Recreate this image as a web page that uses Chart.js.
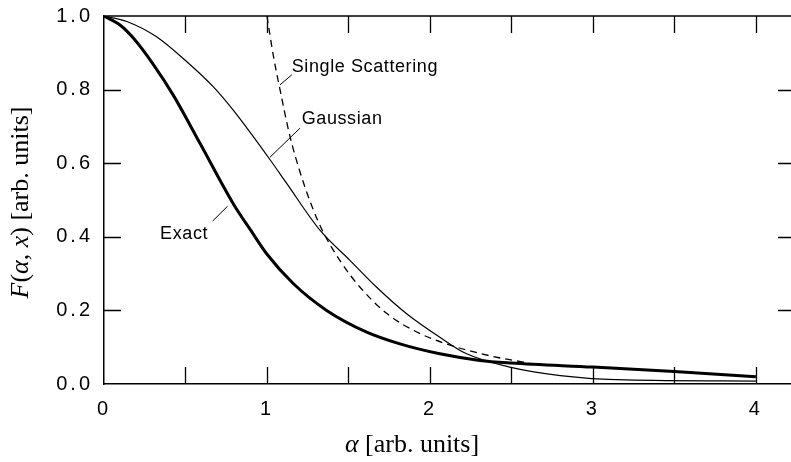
<!DOCTYPE html>
<html><head><meta charset="utf-8">
<script src="https://cdn.jsdelivr.net/npm/chart.js@4.4.1/dist/chart.umd.min.js"></script>
<style>html,body{margin:0;padding:0;background:#fff;overflow:hidden;width:791px;height:462px}canvas{display:block}</style>
</head><body>
<canvas id="c" width="795" height="462"></canvas>
<script>
// ---- data ----
const exactX = [0, 0.1, 0.18, 0.30, 0.425, 0.589, 0.793, 0.90, 0.998, 1.161, 1.366, 1.612, 1.816, 2.061, 2.307, 2.50, 3.00, 3.50, 4.00];
const exactY = [1.0, 0.975, 0.94, 0.87, 0.785, 0.654, 0.49, 0.418, 0.354, 0.273, 0.20, 0.141, 0.109, 0.082, 0.064, 0.057, 0.046, 0.034, 0.020];

const gaussX = [0, 0.14, 0.32, 0.51, 0.67, 0.793, 1.018, 1.121, 1.325, 1.509, 1.673, 1.857, 2.061, 2.225, 2.49, 2.80, 3.20, 4.00];
const gaussY = [1.0, 0.985, 0.944, 0.875, 0.808, 0.744, 0.61, 0.545, 0.418, 0.336, 0.263, 0.191, 0.127, 0.082, 0.046, 0.023, 0.011, 0.008];

const singleX = [1.0, 1.04, 1.08, 1.14, 1.20, 1.28, 1.346, 1.448, 1.571, 1.734, 1.939, 2.143, 2.307, 2.45, 2.61];
const singleY = [1.0, 0.89, 0.80, 0.675, 0.58, 0.478, 0.412, 0.335, 0.263, 0.192, 0.137, 0.103, 0.083, 0.069, 0.057];

const seriesNames = ['Exact', 'Gaussian', 'Single Scattering'];
const xTickLabels = ['0', '1', '2', '3', '4'];
const yTickLabels = ['0.0', '0.2', '0.4', '0.6', '0.8', '1.0'];

// annotation label anchors (data units) and leader lines
const labelAnchors = [
  {text: 'Single Scattering', x: 1.152, y: 0.864, from: [1.080, 0.813], to: [1.152, 0.840]},
  {text: 'Gaussian',          x: 1.213, y: 0.724, from: [1.018, 0.616], to: [1.202, 0.695]},
  {text: 'Exact',             x: 0.344, y: 0.412, from: [0.667, 0.443], to: [0.758, 0.483]}
];

const pts = (xs, ys) => xs.map((v, i) => ({x: v, y: ys[i]}));

const decor = {
  id: 'decor',
  beforeDraw(chart) { chart.ctx.letterSpacing = '3px'; },
  afterDraw(chart) {
    const {ctx, chartArea: a, scales: {x, y}} = chart;
    ctx.save();
    ctx.letterSpacing = '0px';
    ctx.strokeStyle = '#000';
    ctx.lineWidth = 1.5;
    ctx.beginPath();
    ctx.moveTo(a.left, a.top); ctx.lineTo(a.right, a.top); ctx.lineTo(a.right, a.bottom);
    ctx.stroke();
    // inward tick marks on all four sides
    const L = 17;
    ctx.lineWidth = 1.3;
    ctx.beginPath();
    x.ticks.forEach(t => {
      if (t.value > 0.01 && t.value < x.max - 0.01) {
        const p = Math.round(x.getPixelForValue(t.value)) + 0.5;
        ctx.moveTo(p, a.bottom); ctx.lineTo(p, a.bottom - L);
        ctx.moveTo(p, a.top); ctx.lineTo(p, a.top + L);
      }
    });
    y.ticks.forEach(t => {
      if (t.value > 0.01 && t.value < y.max - 0.01) {
        const p = Math.round(y.getPixelForValue(t.value)) + 0.5;
        ctx.moveTo(a.left, p); ctx.lineTo(a.left + L, p);
        ctx.moveTo(a.right, p); ctx.lineTo(a.right - L, p);
      }
    });
    ctx.stroke();

    // annotations
    ctx.fillStyle = '#000';
    ctx.lineWidth = 1;
    ctx.letterSpacing = '0.6px';
    ctx.font = '18px "Liberation Sans", Arial, sans-serif';
    ctx.textBaseline = 'alphabetic';
    ctx.textAlign = 'left';
    labelAnchors.forEach(l => {
      ctx.fillText(l.text, x.getPixelForValue(l.x), y.getPixelForValue(l.y) + 0.358 * 18);
      ctx.beginPath();
      ctx.moveTo(x.getPixelForValue(l.from[0]), y.getPixelForValue(l.from[1]));
      ctx.lineTo(x.getPixelForValue(l.to[0]), y.getPixelForValue(l.to[1]));
      ctx.stroke();
    });

    // axis titles (math style: italic symbols, upright text)
    ctx.letterSpacing = '0px';
    const fs = 26;
    const drawSegs = (segs, cx, base) => {
      let w = 0;
      segs.forEach(s => { ctx.font = (s.i ? 'italic ' : '') + fs + 'px "Liberation Serif", "Times New Roman", serif'; s.w = ctx.measureText(s.t).width; w += s.w; });
      let cur = cx - w / 2;
      segs.forEach(s => { ctx.font = (s.i ? 'italic ' : '') + fs + 'px "Liberation Serif", "Times New Roman", serif'; ctx.fillText(s.t, cur, base); cur += s.w; });
    };
    drawSegs([{t: 'α', i: true}, {t: ' [arb. units]', i: false}], 412, 452);
    ctx.save();
    ctx.translate(28, 202.5);
    ctx.rotate(-Math.PI / 2);
    drawSegs([{t: 'F', i: true}, {t: '(', i: false}, {t: 'α', i: true}, {t: ', ', i: false}, {t: 'x', i: true}, {t: ') [arb. units]', i: false}], 0, 0);
    ctx.restore();
    ctx.restore();
  }
};

const noPad = s => { s.paddingTop = 0; s.paddingBottom = 0; s.paddingLeft = 0; s.paddingRight = 0; };

new Chart(document.getElementById('c'), {
  type: 'line',
  data: {
    datasets: [
      {label: seriesNames[0], data: pts(exactX, exactY), borderColor: '#000', borderWidth: 3, pointRadius: 0, fill: false, cubicInterpolationMode: 'monotone'},
      {label: seriesNames[1], data: pts(gaussX, gaussY), borderColor: '#000', borderWidth: 1.2, pointRadius: 0, fill: false, cubicInterpolationMode: 'monotone'},
      {label: seriesNames[2], data: pts(singleX, singleY), borderColor: '#000', borderWidth: 1.3, borderDash: [7, 5], pointRadius: 0, fill: false, cubicInterpolationMode: 'monotone'}
    ]
  },
  options: {
    responsive: false,
    animation: false,
    devicePixelRatio: 1,
    layout: {padding: {top: 16, left: 0, right: 0, bottom: 0}},
    plugins: {legend: {display: false}, tooltip: {enabled: false}},
    scales: {
      x: {
        type: 'linear', min: 0, max: 4.24,
        afterFit: s => { s.height = 78; noPad(s); },
        grid: {display: false, drawTicks: false},
        border: {display: true, color: '#000', width: 1.5},
        ticks: {
          stepSize: 0.5, includeBounds: false, autoSkip: false, maxRotation: 0, padding: 13,
          color: '#000', font: {family: '"Liberation Sans", Arial, sans-serif', size: 20},
          callback: v => (Math.abs(v - Math.round(v)) < 1e-6 ? xTickLabels[Math.round(v)] : '')
        }
      },
      y: {
        type: 'linear', min: 0, max: 1,
        afterFit: s => { s.width = 104; noPad(s); },
        grid: {display: false, drawTicks: false},
        border: {display: true, color: '#000', width: 1.5},
        ticks: {
          stepSize: 0.2, padding: 11, autoSkip: false,
          color: '#000', font: {family: '"Liberation Sans", Arial, sans-serif', size: 20},
          callback: v => yTickLabels[Math.round(v * 5)]
        }
      }
    }
  },
  plugins: [decor]
});
</script>
</body></html>
